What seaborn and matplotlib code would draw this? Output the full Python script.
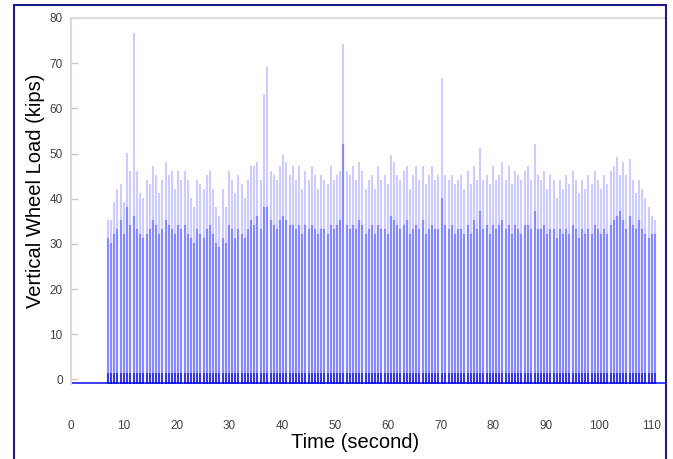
import numpy as np
import pandas as pd
import seaborn as sns
import matplotlib.pyplot as plt
from matplotlib.patches import Rectangle

# wheel passes: time (s), peak load (kips), core load (kips)
times = [7.0, 7.6, 8.2, 8.8, 9.4, 10.0, 10.6, 11.2, 11.9, 12.5,
         13.1, 13.7, 14.3, 14.9, 15.5, 16.1, 16.7, 17.3, 17.9, 18.5,
         19.1, 19.7, 20.3, 20.9, 21.5, 22.1, 22.7, 23.3, 23.9, 24.5,
         25.1, 25.7, 26.3, 26.9, 27.5, 28.1, 28.7, 29.3, 29.9, 30.5,
         31.1, 31.7, 32.3, 32.9, 33.5, 34.1, 34.7, 35.3, 35.9, 36.6,
         37.2, 37.8, 38.4, 39.0, 39.6, 40.2, 40.8, 41.4, 42.0, 42.6,
         43.2, 43.8, 44.4, 45.0, 45.6, 46.2, 46.8, 47.4, 48.0, 48.6,
         49.2, 49.8, 50.4, 51.0, 51.6, 52.2, 52.8, 53.4, 54.0, 54.6,
         55.2, 55.8, 56.4, 57.0, 57.6, 58.2, 58.8, 59.4, 60.0, 60.6,
         61.2, 61.8, 62.4, 63.0, 63.6, 64.2, 64.8, 65.4, 66.0, 66.6,
         67.2, 67.8, 68.4, 69.0, 69.6, 70.3, 70.9, 71.5, 72.1, 72.7,
         73.3, 73.9, 74.5, 75.1, 75.7, 76.3, 76.9, 77.5, 78.1, 78.7,
         79.3, 79.9, 80.5, 81.1, 81.7, 82.3, 82.9, 83.5, 84.1, 84.7,
         85.3, 85.9, 86.5, 87.1, 87.8, 88.4, 89.0, 89.6, 90.2, 90.8,
         91.4, 92.0, 92.6, 93.2, 93.8, 94.4, 95.0, 95.6, 96.2, 96.8,
         97.4, 98.0, 98.6, 99.2, 99.8, 100.4, 101.0, 101.6, 102.2, 102.8,
         103.4, 104.0, 104.6, 105.2, 105.8, 106.4, 107.0, 107.6, 108.2, 108.8,
         109.4, 110.0, 110.6]

peaks = [35, 35, 39, 42, 43, 39, 50, 46, 76.5, 46,
         41, 40, 44, 43, 47, 45, 41, 44, 48, 45,
         46, 42, 46, 44, 46, 44, 40, 38, 44, 43,
         42, 45, 46, 42, 38, 36, 42, 38, 46, 44,
         41, 45, 43, 40, 44, 47, 47, 48, 44, 63,
         69, 46, 45, 44, 47, 49.5, 48, 45, 47, 44,
         47, 42, 46, 44, 47, 45, 42, 45, 44, 43,
         47, 44, 45, 46, 74, 46, 45, 47, 44, 48,
         46, 42, 44, 45, 42, 47, 44, 45, 43, 49.5,
         48, 45, 44, 46, 47, 42, 45, 47, 44, 47,
         43, 45, 47, 44, 45, 66.5, 45, 44, 45, 43,
         44, 45, 42, 46, 43, 47, 44, 51, 44, 45,
         43, 47, 44, 45, 48, 44, 47, 43, 46, 45,
         44, 46, 47, 44, 52, 45, 44, 46, 42, 45,
         44, 40, 44, 42, 45, 43, 46, 44, 41, 44,
         42, 45, 43, 46, 44, 42, 45, 43, 46, 47,
         49, 45, 48, 45, 48.5, 44, 41, 44, 42, 40,
         38, 36, 35]

cores = [31, 30, 32, 33, 35, 32, 38, 34, 36, 33,
         32, 31, 32, 33, 35, 34, 32, 33, 35, 34,
         33, 32, 34, 33, 34, 32, 31, 30, 33, 32,
         31, 33, 34, 32, 30, 29, 31, 30, 34, 33,
         31, 33, 32, 31, 33, 35, 34, 36, 33, 38,
         38, 35, 34, 33, 35, 36, 35, 34, 34, 33,
         34, 32, 34, 33, 34, 33, 32, 33, 33, 32,
         34, 33, 34, 35, 52, 34, 33, 34, 33, 35,
         34, 32, 33, 34, 32, 34, 33, 33, 32, 36,
         35, 34, 33, 34, 35, 32, 33, 34, 33, 35,
         32, 33, 34, 33, 33, 40, 34, 33, 34, 32,
         33, 33, 32, 34, 32, 35, 33, 37, 33, 34,
         32, 34, 33, 34, 35, 33, 34, 32, 34, 33,
         32, 34, 34, 33, 37, 33, 33, 34, 32, 33,
         33, 31, 33, 32, 33, 32, 34, 33, 31, 33,
         32, 33, 32, 34, 33, 32, 33, 32, 34, 35,
         36, 37, 35, 33, 36, 34, 33, 35, 33, 32,
         31, 32, 32]

baseline = -0.7
bump = 1.3
xticks = [0, 10, 20, 30, 40, 50, 60, 70, 80, 90, 100, 110]
yticks = [0, 10, 20, 30, 40, 50, 60, 70, 80]


def spikes(tops):
    rows = []
    for i, (t, top) in enumerate(zip(times, tops)):
        rows.append((i, t, baseline))
        rows.append((i, t, top))
    return pd.DataFrame(rows, columns=["spike", "time", "load"])


plt.rcParams['font.family'] = ['Liberation Sans', 'DejaVu Sans']
fig = plt.figure(figsize=(6.73, 4.59), dpi=100)
ax = fig.add_axes([71 / 673, 1 - 383.5 / 459, 594 / 673, 365.5 / 459])

base_df = pd.DataFrame({"time": [0, 112.5], "load": [baseline, baseline]})
sns.lineplot(data=base_df, x="time", y="load", color="#3030ff", lw=1.3, ax=ax)

sns.lineplot(data=spikes(peaks), x="time", y="load", units="spike", estimator=None,
             sort=False, color="#0000ff", alpha=0.2, lw=1.5, ax=ax)
sns.lineplot(data=spikes(cores), x="time", y="load", units="spike", estimator=None,
             sort=False, color="#0000ff", alpha=0.33, lw=1.6, ax=ax)
sns.lineplot(data=spikes([bump] * len(times)), x="time", y="load", units="spike",
             estimator=None, sort=False, color="#0000d0", alpha=0.6, lw=1.4, ax=ax)

ax.set_xlim(0, 112.5)
ax.set_ylim(-0.9, 80)
ax.set_xticks(xticks)
ax.set_yticks(yticks)
ax.tick_params(axis='x', length=0, pad=26, labelsize=8.5, labelcolor='#404040')
ax.tick_params(axis='y', direction='in', length=5, color='#c8c8c8', width=1,
               pad=6, labelsize=8.5, labelcolor='#404040')
for side in ['right', 'bottom']:
    ax.spines[side].set_visible(False)
for side in ['left', 'top']:
    ax.spines[side].set_color('#dcdcdc')
    ax.spines[side].set_linewidth(1.5)

ax.set_xlabel('Time (second)', fontsize=14.5)
ax.set_ylabel('Vertical Wheel Load (kips)', fontsize=14.5)
ax.xaxis.label.set_va('center')
ax.yaxis.label.set_va('center')
ax.xaxis.set_label_coords(0.478, -0.162)
ax.yaxis.set_label_coords(-0.06, 0.527)

fig.patches.append(Rectangle((13.5 / 673, -0.1), 652 / 673, 1.1 - 5 / 459,
                             transform=fig.transFigure, fill=False,
                             edgecolor='#1c1c8c', lw=1.5, zorder=10))

fig.savefig('out.png', dpi=100)
